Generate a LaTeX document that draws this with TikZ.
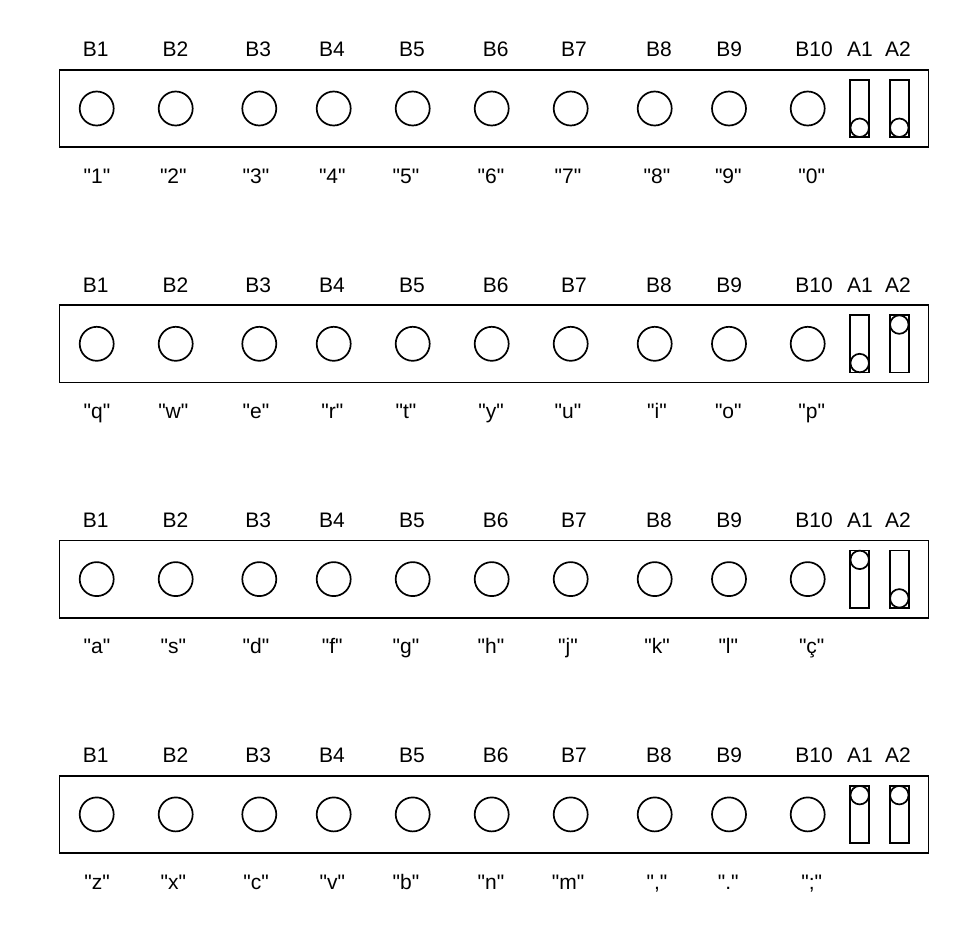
\documentclass[tikz,border=0pt]{standalone}
\usepackage{fontspec}
\setmainfont{Liberation Sans}[Ligatures=TeXOff]
\usetikzlibrary{calc}
\tikzset{
  panel/.style={draw,line width=1.7pt,rectangle,minimum width=869pt,minimum height=77.5pt,inner sep=0pt},
  hole/.style={draw,line width=1.7pt,circle,minimum size=34pt,inner sep=0pt},
  slot/.style={draw,line width=1.7pt,rectangle,minimum width=19pt,minimum height=57.5pt,inner sep=0pt},
  knob/.style={draw,line width=1.7pt,circle,minimum size=18.5pt,inner sep=0pt},
  lbl/.style={anchor=base,inner sep=0pt,font=\fontsize{21}{25}\selectfont}
}
\begin{document}
\begin{tikzpicture}[x=1pt,y=-1pt]
  \useasboundingbox (0,0) rectangle (977,927);
  % column positions: holes, top labels, key labels
  \def\colx{{96.7,175.7,259.3,333.7,412.7,491.7,570.7,654.7,729,807.7}}
  \def\topx{{95.7,175.5,258.3,332,412,495.7,574,659,729.3,814}}
  \def\botx{{97,173.3,256,332.3,406,491,568,657,728.3,811.7}}
  \foreach \r/\sa/\sb/\keys in {0/0/0/{1,2,3,4,5,6,7,8,9,0},
                                1/0/1/{q,w,e,r,t,y,u,i,o,p},
                                2/1/0/{a,s,d,f,g,h,j,k,l,ç},
                                3/1/1/{z,x,c,v,b,n,m,{,},.,;}}{
    \pgfmathsetmacro\ry{108.5+235.3*\r}
    \node[panel] (p\r) at (494,\ry) {};
    \foreach \k [count=\i] in \keys {
      \pgfmathsetmacro\cx{\colx[\i-1]}
      \pgfmathsetmacro\tx{\topx[\i-1]}
      \pgfmathsetmacro\bx{\botx[\i-1]}
      \node[hole] (h\r-\i) at (\cx,\ry) {};
      \node[lbl] (b\r-\i) at (\tx,\ry-51.8) {B\i};
      \node[lbl] (k\r-\i) at (\bx,\ry+74.8) {"\k"};
    }
    % slide switches
    \node[slot] (s\r-1) at (859.7,\ry) {};
    \node[slot] (s\r-2) at (899.3,\ry) {};
    \node[knob] (n\r-1) at ($(s\r-1)+(0,{19.25-38.5*\sa})$) {};
    \node[knob] (n\r-2) at ($(s\r-2)+(0,{19.25-38.5*\sb})$) {};
    \node[lbl] (a\r-1) at (860,\ry-51.8) {A1};
    \node[lbl] (a\r-2) at (898,\ry-51.8) {A2};
  }
\end{tikzpicture}
\end{document}
